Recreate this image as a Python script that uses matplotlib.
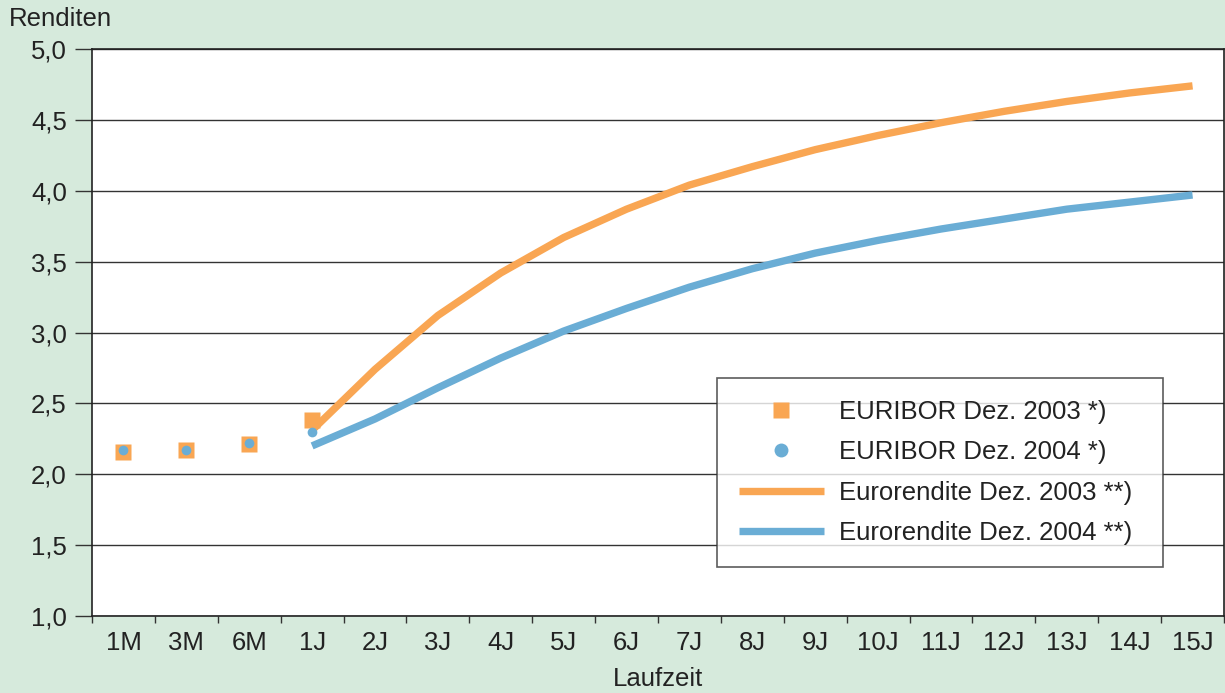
import matplotlib.pyplot as plt
from matplotlib.ticker import FixedLocator, FuncFormatter

plt.rcParams['font.family'] = ['Liberation Sans', 'DejaVu Sans']

laufzeit = ["1M", "3M", "6M", "1J", "2J", "3J", "4J", "5J", "6J", "7J",
            "8J", "9J", "10J", "11J", "12J", "13J", "14J", "15J"]

# EURIBOR (Geldmarkt) 1M..1J
euribor_2003 = [2.16, 2.17, 2.21, 2.38]
euribor_2004 = [2.17, 2.17, 2.22, 2.30]

# Eurorendite 1J..15J
rendite_2003 = [2.31, 2.74, 3.12, 3.42, 3.67, 3.87, 4.04, 4.17, 4.29,
                4.39, 4.48, 4.56, 4.63, 4.69, 4.74]
rendite_2004 = [2.20, 2.39, 2.61, 2.82, 3.01, 3.17, 3.32, 3.45, 3.56,
                3.65, 3.73, 3.80, 3.87, 3.92, 3.97]

bg = '#d6eadc'
orange = '#f9a653'
blue = '#6aadd5'
fs = 18.5

fig = plt.figure(figsize=(12.25, 6.93), dpi=100, facecolor=bg)
ax = fig.add_axes([92 / 1225, 77 / 693, 1132 / 1225, 567 / 693])
ax.set_facecolor('white')

x_eur = list(range(len(euribor_2003)))
x_ren = list(range(3, 3 + len(rendite_2003)))

ax.plot(x_ren, rendite_2003, color=orange, lw=5.3, solid_capstyle='butt',
        label='Eurorendite Dez. 2003 **)', zorder=3)
ax.plot(x_ren, rendite_2004, color=blue, lw=5.3, solid_capstyle='butt',
        label='Eurorendite Dez. 2004 **)', zorder=3)
ax.plot(x_eur, euribor_2003, ls='none', marker='s', ms=11, color=orange,
        mec='none', label='EURIBOR Dez. 2003 *)', zorder=4)
ax.plot(x_eur, euribor_2004, ls='none', marker='o', ms=7, color=blue,
        mec='none', label='EURIBOR Dez. 2004 *)', zorder=5)

ax.set_xlim(-0.5, len(laufzeit) - 0.5)
ax.set_ylim(1.0, 5.0)
ax.set_yticks([1.0 + 0.5 * i for i in range(9)])
ax.yaxis.set_major_formatter(FuncFormatter(lambda v, p: f"{v:.1f}".replace('.', ',')))
ax.yaxis.grid(True, color='#333333', lw=1)
ax.set_axisbelow(True)

ax.set_xticks(range(len(laufzeit)))
ax.set_xticklabels(laufzeit)
ax.xaxis.set_minor_locator(FixedLocator([i - 0.5 for i in range(len(laufzeit) + 1)]))
ax.tick_params(axis='x', which='major', length=0, pad=11, labelsize=fs, colors='#222222')
ax.tick_params(axis='x', which='minor', length=5, width=1, color='#333333')
ax.tick_params(axis='y', length=12, width=1, labelsize=fs, color='#333333',
               labelcolor='#222222', pad=6)

for s in ax.spines.values():
    s.set_color('#222222')
    s.set_linewidth(1.2)

fig.text(9 / 1225, 1 - 19 / 693, 'Renditen', fontsize=fs, color='#222222',
         ha='left', va='center')
fig.text(658 / 1225, 1 - 679 / 693, 'Laufzeit', fontsize=fs, color='#222222',
         ha='center', va='center')

handles, labels = ax.get_legend_handles_labels()
order = [2, 3, 0, 1]
leg = ax.legend([handles[i] for i in order], [labels[i] for i in order],
                loc='upper left', bbox_to_anchor=(625 / 1132, 238 / 567, 446 / 1132, 0),
                mode='expand', fontsize=fs, frameon=True, fancybox=False,
                handlelength=3.3, handletextpad=0.6, labelspacing=0.64,
                borderpad=0.85, borderaxespad=0)
leg.get_frame().set_edgecolor('#333333')
leg.get_frame().set_linewidth(1.2)
leg.legend_handles[0].set_markersize(11.5)
leg.legend_handles[1].set_markersize(10)
for t in leg.get_texts():
    t.set_color('#222222')

fig.savefig('out.png', dpi=100, facecolor=bg)
